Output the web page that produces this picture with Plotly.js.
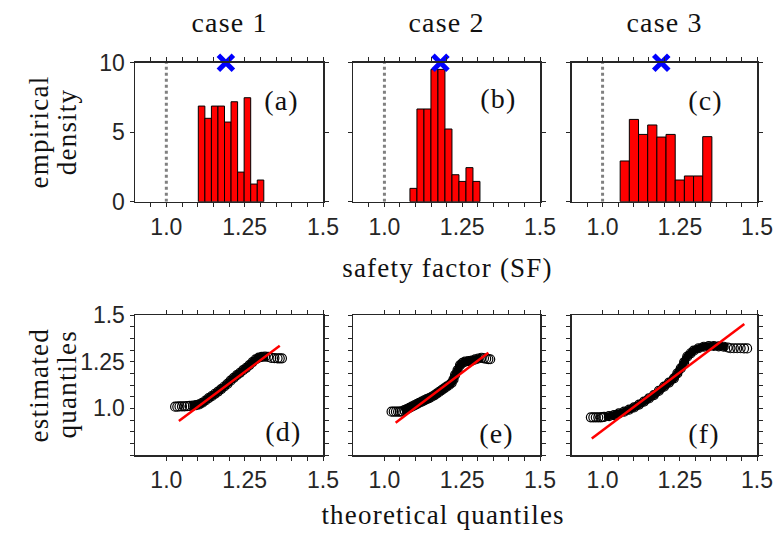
<!DOCTYPE html>
<html><head><meta charset="utf-8">
<script src="https://cdn.plot.ly/plotly-3.0.1.min.js"></script>
<style>
html,body{margin:0;padding:0;background:#fff}
#chart{width:775px;height:533px}
#chart .annotation-text{letter-spacing:1.2px}
</style>
</head><body><div id="chart"></div>
<script>
// ---------- data ----------
const caseNames = ['case 1', 'case 2', 'case 3'];
const panelLabelsTop = ['(a)', '(b)', '(c)'];
const panelLabelsBottom = ['(d)', '(e)', '(f)'];

// histograms: first bin centre, bin width, densities
const binCentre0 = [1.1125, 1.0933, 1.0718];
const binWidth = [0.0209, 0.0225, 0.0297];
const density1 = [6.88, 6.00, 6.88, 6.88, 5.73, 7.19, 2.13, 7.48, 1.27, 1.56];
const density2 = [0.96, 6.67, 6.67, 9.52, 9.52, 5.23, 1.94, 1.46, 2.45, 1.46];
const density3 = [2.93, 5.92, 4.84, 5.52, 4.65, 4.84, 1.56, 1.85, 1.85, 4.68];
const meanSF = [1.19, 1.18, 1.19];
const meanMarkY = [10, 10, 10];
const limitSF = [1.0, 1.0];
const limitY = [0, 10];

// QQ plots: theoretical vs estimated quantiles
const theo1 = [1.028,1.035,1.042,1.050,1.058,1.066,
  1.075,1.085,1.095,1.105,1.115,1.125,1.135,1.145,1.155,1.165,1.175,1.185,1.195,1.205,1.215,1.225,1.235,1.245,1.255,1.265,1.275,1.285,1.295,1.305,1.315,1.325,
  1.335,1.345,1.355,1.362,1.369];
const est1 = [1.009,1.009,1.010,1.010,1.011,1.012,
  1.013,1.015,1.017,1.021,1.030,1.042,1.055,1.065,1.078,1.090,1.103,1.117,1.131,1.148,1.163,1.178,1.190,1.205,1.217,1.232,1.248,1.262,1.272,1.276,1.277,1.276,
  1.270,1.269,1.268,1.268,1.268];
const band1 = [6, 31];

const theo2 = [1.023,1.030,1.037,1.044,1.050,
  1.056,1.064,1.072,1.080,1.088,1.096,1.104,1.112,1.120,1.128,1.136,1.144,1.152,1.160,1.168,1.176,1.184,1.192,1.200,1.208,1.216,1.222,1.227,1.235,1.243,1.251,1.259,1.270,1.281,1.292,1.302,1.312,
  1.320,1.327,1.334,1.340];
const est2 = [0.982,0.982,0.982,0.982,0.982,
  0.984,0.990,0.996,1.003,1.009,1.016,1.023,1.030,1.036,1.043,1.049,1.055,1.062,1.070,1.079,1.088,1.098,1.107,1.116,1.125,1.136,1.155,1.179,1.205,1.232,1.243,1.250,1.253,1.256,1.262,1.267,1.271,
  1.268,1.266,1.264,1.263];
const band2 = [5, 36];

const theo3 = [0.962,0.970,0.978,0.986,0.994,1.000,
  1.005,1.021,1.037,1.053,1.070,1.086,1.102,1.118,1.134,1.150,1.166,1.182,1.199,1.215,1.231,1.242,1.253,1.264,1.274,1.285,1.295,1.311,1.328,1.344,1.360,1.376,1.392,1.405,
  1.414,1.425,1.436,1.447,1.458,1.468];
const est3 = [0.952,0.952,0.952,0.952,0.952,0.953,
  0.954,0.958,0.964,0.973,0.982,0.993,1.005,1.020,1.036,1.053,1.071,1.093,1.116,1.138,1.161,1.187,1.214,1.247,1.277,1.295,1.309,1.322,1.330,1.333,1.334,1.332,1.330,1.326,
  1.322,1.322,1.322,1.322,1.321,1.321];
const band3 = [6, 33];

// fitted reference lines (end points)
const fitX1 = [1.040, 1.362], fitY1 = [0.932, 1.335];
const fitX2 = [1.036, 1.334], fitY2 = [0.923, 1.298];
const fitX3 = [0.965, 1.459], fitY3 = [0.839, 1.452];

// tick values / labels
const histXTicks = [0.95,1.0,1.05,1.1,1.15,1.2,1.25,1.3,1.35,1.4,1.45,1.5];
const histXText  = ['','1.0','','','','','1.25','','','','','1.5'];
const qqXTicks = [1.0,1.05,1.1,1.15,1.2,1.25,1.3,1.35,1.4,1.45,1.5];
const qqXText  = ['1.0','','','','','1.25','','','','','1.5'];
const histYTicks = [0, 5, 10];
const histYText = ['0', '5', '10'];
const qqYTicks = [0.75,0.8125,0.875,0.9375,1.0,1.0625,1.125,1.1875,1.25,1.3125,1.375,1.4375,1.5];
const qqYText  = ['','','','','1.0','','','','1.25','','','','1.5'];

// ---------- build ----------
const densities = [density1, density2, density3];
const theos = [theo1, theo2, theo3];
const ests = [est1, est2, est3];
const bands = [band1, band2, band3];
const fitXs = [fitX1, fitX2, fitX3];
const fitYs = [fitY1, fitY2, fitY3];

const traces = [];
for (let i = 0; i < 3; i++) {
  const xa = 'x' + (i === 0 ? '' : (i + 1));
  const ya = 'y' + (i === 0 ? '' : (i + 1));
  traces.push({type: 'bar', xaxis: xa, yaxis: ya, y: densities[i], x0: binCentre0[i], dx: binWidth[i],
    width: binWidth[i], marker: {color: '#ff0000', line: {color: '#000', width: 1}}, hoverinfo: 'skip'});
  traces.push({type: 'scatter', mode: 'lines', xaxis: xa, yaxis: ya, x: limitSF, y: limitY,
    line: {color: '#808080', width: 3, dash: 'dot'}, hoverinfo: 'skip'});
  traces.push({type: 'scatter', mode: 'markers', xaxis: xa, yaxis: ya, x: [meanSF[i]], y: [meanMarkY[i]],
    cliponaxis: false,
    marker: {symbol: 'x-thin', size: 15, color: '#0000ff', line: {color: '#0000ff', width: 5}}, hoverinfo: 'skip'});

  const xb = 'x' + (i + 4), yb = 'y' + (i + 4);
  const b = bands[i];
  traces.push({type: 'scatter', mode: 'lines', xaxis: xb, yaxis: yb,
    x: theos[i].slice(b[0], b[1] + 1), y: ests[i].slice(b[0], b[1] + 1),
    line: {color: '#000', width: 8, shape: 'spline'}, hoverinfo: 'skip'});
  traces.push({type: 'scatter', mode: 'markers', xaxis: xb, yaxis: yb, x: theos[i], y: ests[i],
    marker: {symbol: 'circle-open', size: 9, color: '#000', line: {width: 1.2}}, hoverinfo: 'skip'});
  traces.push({type: 'scatter', mode: 'lines', xaxis: xb, yaxis: yb, x: fitXs[i], y: fitYs[i],
    line: {color: '#ff0000', width: 2.5}, hoverinfo: 'skip'});
}

const W = 775, H = 533;
const colPx = [[135, 323], [353.3, 540], [571.7, 757]];
const rowPx = [[62.7, 201.7], [315, 455]];
const dx = c => [colPx[c][0] / W, colPx[c][1] / W];
const dy = r => [1 - rowPx[r][1] / H, 1 - rowPx[r][0] / H];

const axisBase = {
  showline: true, linecolor: '#262626', linewidth: 1.5, mirror: 'ticks',
  ticks: 'outside', ticklen: 4, tickwidth: 1, tickcolor: '#262626',
  showgrid: false, zeroline: false, fixedrange: true, tickmode: 'array',
  tickfont: {family: 'Liberation Sans, Arial, sans-serif', size: 23, color: '#262626'},
  ticklabelstandoff: 0
};

const layout = {
  width: W, height: H, margin: {l: 0, r: 0, t: 0, b: 0},
  paper_bgcolor: '#fff', plot_bgcolor: '#fff', showlegend: false, bargap: 0,
  annotations: []
};
const serif = 'Liberation Serif, Times New Roman, serif';
const ann = (o) => Object.assign({showarrow: false, xanchor: 'center', yanchor: 'middle'}, o);

for (let i = 0; i < 3; i++) {
  const s = i === 0 ? '' : String(i + 1);
  layout['xaxis' + s] = Object.assign({}, axisBase, {domain: dx(i), anchor: 'y' + s, range: [0.9, 1.5],
    tickvals: histXTicks, ticktext: histXText});
  layout['yaxis' + s] = Object.assign({}, axisBase, {domain: dy(0), anchor: 'x' + s, range: [0, 10],
    tickvals: histYTicks, ticktext: histYText, showticklabels: i === 0});
  const t = String(i + 4);
  layout['xaxis' + t] = Object.assign({}, axisBase, {domain: dx(i), anchor: 'y' + t, range: [0.9, 1.5],
    tickvals: qqXTicks, ticktext: qqXText});
  layout['yaxis' + t] = Object.assign({}, axisBase, {domain: dy(1), anchor: 'x' + t, range: [0.75, 1.5],
    tickvals: qqYTicks, ticktext: qqYText, showticklabels: i === 0});

  layout.annotations.push(ann({xref: 'paper', yref: 'paper', x: (colPx[i][0] + colPx[i][1]) / 2 / W, y: 1 - 22 / H,
    text: caseNames[i], font: {family: serif, size: 28, color: '#111'}}));
}
const topLabPos = [[1.369, 7.3], [1.366, 7.4], [1.333, 7.3]];
const botLabPos = [[1.374, 0.875], [1.361, 0.866], [1.328, 0.866]];
for (let i = 0; i < 3; i++) {
  const s = i === 0 ? '' : String(i + 1);
  layout.annotations.push(ann({xref: 'x' + s, yref: 'y' + s, x: topLabPos[i][0], y: topLabPos[i][1],
    text: panelLabelsTop[i], font: {family: serif, size: 28, color: '#111'}}));
  const t = String(i + 4);
  layout.annotations.push(ann({xref: 'x' + t, yref: 'y' + t, x: botLabPos[i][0], y: botLabPos[i][1],
    text: panelLabelsBottom[i], font: {family: serif, size: 28, color: '#111'}}));
}
const titleFont = {family: serif, size: 27, color: '#111'};
layout.annotations.push(
  ann({xref: 'paper', yref: 'paper', x: 447 / W, y: 1 - 268 / H, text: 'safety factor (SF)', font: titleFont}),
  ann({xref: 'paper', yref: 'paper', x: 443 / W, y: 1 - 515 / H, text: 'theoretical quantiles', font: titleFont}),
  ann({xref: 'paper', yref: 'paper', x: 39 / W, y: 1 - 132 / H, text: 'empirical', textangle: -90, font: titleFont}),
  ann({xref: 'paper', yref: 'paper', x: 67 / W, y: 1 - 132 / H, text: 'density', textangle: -90, font: titleFont}),
  ann({xref: 'paper', yref: 'paper', x: 39 / W, y: 1 - 385 / H, text: 'estimated', textangle: -90, font: titleFont}),
  ann({xref: 'paper', yref: 'paper', x: 67 / W, y: 1 - 385 / H, text: 'quantiles', textangle: -90, font: titleFont})
);

Plotly.newPlot('chart', traces, layout, {staticPlot: true, displayModeBar: false});
</script>
</body></html>
